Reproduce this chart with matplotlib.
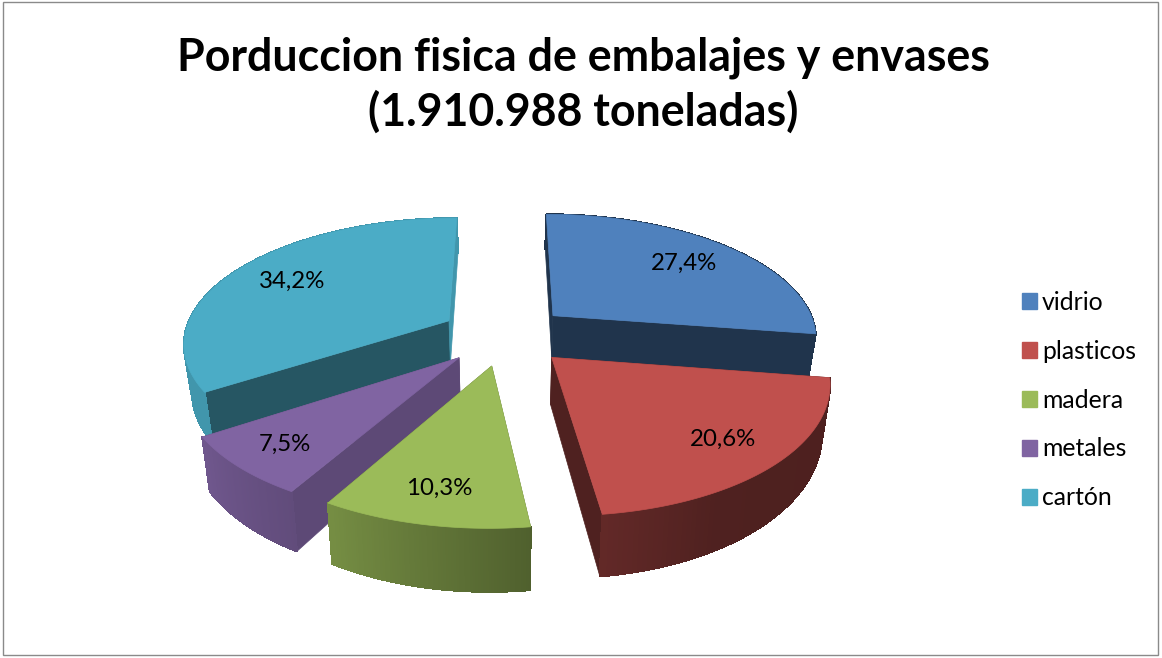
import numpy as np
import matplotlib
matplotlib.use("Agg")
import matplotlib.pyplot as plt
from matplotlib.patches import Patch, Polygon, Rectangle

title = "Porduccion fisica de embalajes y envases\n(1.910.988 toneladas)"
categories = ["vidrio", "plasticos", "madera", "metales", "cartón"]
values = [27.4, 20.6, 10.3, 7.5, 34.2]
labels = ["27,4%", "20,6%", "10,3%", "7,5%", "34,2%"]
colors = ["#4F81BD", "#C0504D", "#9BBB59", "#8064A2", "#4BACC6"]

# brightness of the flat cut faces (start edge, end edge) per slice
cut_shade = [(0.40, 0.40), (0.41, 0.41), (0.55, 0.55), (0.73, 0.73), (0.50, 0.87)]
label_r = [0.74, 0.79, 0.80, 0.81, 0.74]

CX, CY = 505, 335
RX, RY = 265, 124
PERSP = 0.165
EXPLODE = 0.245
DEPTH = 45
BOTTOM_SCALE = 0.975


def project(px, py, bottom=False):
    s = 1 / (1 - PERSP * py)
    x = RX * px * s
    y = RY * py * s
    if bottom:
        x = x * BOTTOM_SCALE
        y = y + DEPTH * s ** 1.5
    return CX + x, CY + y


def rim_shade(deg):
    return np.interp(deg, [90, 150, 172, 210, 237, 360], [0.40, 0.41, 0.51, 0.76, 0.87, 0.87])


def shaded(color, k):
    return tuple(c * k for c in matplotlib.colors.to_rgb(color))


def draw_slice(ax, start, end, color, shades):
    mid = np.radians((start + end) / 2)
    ox, oy = EXPLODE * np.sin(mid), -EXPLODE * np.cos(mid)
    theta = np.radians(np.linspace(start, end, 80))
    ex, ey = ox + np.sin(theta), oy - np.cos(theta)

    # flat cut faces, back one first
    for i, k in ((0, shades[0]), (-1, shades[1])):
        face = [project(ox, oy), project(ex[i], ey[i]), project(ex[i], ey[i], True), project(ox, oy, True)]
        ax.add_patch(Polygon(face, fc=shaded(color, k), ec=shaded(color, k), lw=0.5))

    # outer rim in narrow strips so the shading changes along it
    for j in range(len(theta) - 1):
        k = rim_shade(np.degrees(theta[j]))
        quad = [project(ex[j], ey[j]), project(ex[j + 1], ey[j + 1]),
                project(ex[j + 1], ey[j + 1], True), project(ex[j], ey[j], True)]
        ax.add_patch(Polygon(quad, fc=shaded(color, k), ec=shaded(color, k), lw=0.8, antialiased=False))

    top = [project(ox, oy)] + [project(a, b) for a, b in zip(ex, ey)]
    ax.add_patch(Polygon(top, fc=color, ec=color, lw=0.5))
    return mid, ox, oy


def main():
    plt.rcParams["font.family"] = ["Lato", "DejaVu Sans"]
    fig = plt.figure(figsize=(11.62, 6.58), dpi=100)
    ax = fig.add_axes([0, 0, 1, 1])
    ax.set_xlim(0, 1162)
    ax.set_ylim(658, 0)
    ax.axis("off")

    ax.add_patch(Rectangle((3, 2), 1155, 653, fc="white", ec="#8a8a8a", lw=1))

    edges = np.concatenate([[0], np.cumsum(values)]) / np.sum(values) * 360
    mids = (edges[:-1] + edges[1:]) / 2
    order = sorted(range(len(values)), key=lambda i: -np.cos(np.radians(mids[i])))

    for i in order:
        mid, ox, oy = draw_slice(ax, edges[i], edges[i + 1], colors[i], cut_shade[i])
        lx, ly = project(ox + label_r[i] * np.sin(mid), oy - label_r[i] * np.cos(mid))
        ax.text(lx, ly, labels[i], fontsize=17.3, ha="center", va="center", color="black", zorder=5)

    ax.text(583, 85, title, fontsize=32.2, fontweight="bold", ha="center", va="center",
            linespacing=1.3, color="black")

    handles = [Patch(fc=c, ec=c) for c in colors]
    ax.legend(handles, categories, loc="center left", bbox_to_anchor=(1022 / 1162, 1 - 400 / 658),
              frameon=False, fontsize=17.8, handlelength=0.6, handleheight=0.6,
              handletextpad=0.2, labelspacing=1.05, borderpad=0, borderaxespad=0)

    fig.savefig("out.png", dpi=100)


if __name__ == "__main__":
    main()
